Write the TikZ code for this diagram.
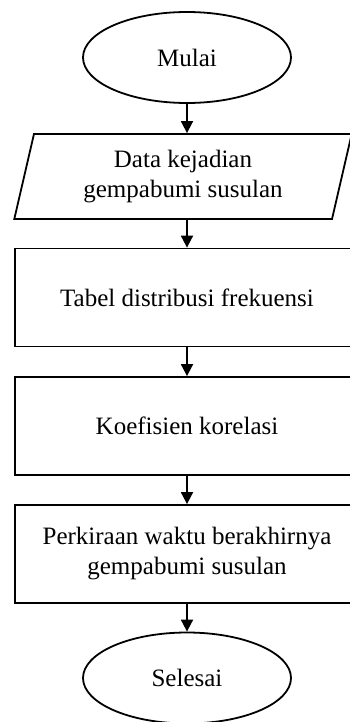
\documentclass[tikz,border=0pt]{standalone}
\usepackage{fontspec}
\setmainfont{Liberation Serif}
\usepackage{tikz}
\usetikzlibrary{arrows.meta,positioning,shapes.geometric}

\begin{document}
\begin{tikzpicture}[x=1pt, y=-1pt,
  term/.style={draw, ellipse, line width=1.8pt, minimum width=208pt,
    minimum height=91pt, inner sep=0pt},
  io/.style={draw, trapezium, trapezium left angle=76, trapezium right angle=104,
    trapezium stretches=true, line width=1.8pt, minimum width=338pt,
    minimum height=85pt, align=center, inner sep=0pt},
  proc/.style={draw, rectangle, line width=1.8pt, minimum width=344pt,
    minimum height=98pt, align=center, inner sep=0pt},
  arr/.style={-{Triangle[length=12pt, width=12pt]}, line width=1.8pt},
  font=\fontsize{25}{30}\selectfont
]
  \useasboundingbox (0,0) rectangle (350,722);

  \node[term] (mulai) at (187,57.5) {Mulai};
  \node[io] (data) at (183,176.5) {Data kejadian\\gempabumi susulan};
  \node[proc] (tabel) at (187,297.5) {Tabel distribusi frekuensi};
  \node[proc] (koef) at (187,426) {Koefisien korelasi};
  \node[proc] (perkiraan) at (187,554) {Perkiraan waktu berakhirnya\\gempabumi susulan};
  \node[term] (selesai) at (187,678) {Selesai};

  \draw[arr] (mulai.south) -- (mulai.south |- data.north);
  \draw[arr] (tabel.north |- data.south) -- (tabel.north);
  \draw[arr] (tabel.south) -- (koef.north);
  \draw[arr] (koef.south) -- (perkiraan.north);
  \draw[arr] (perkiraan.south) -- (selesai.north);
\end{tikzpicture}
\end{document}
